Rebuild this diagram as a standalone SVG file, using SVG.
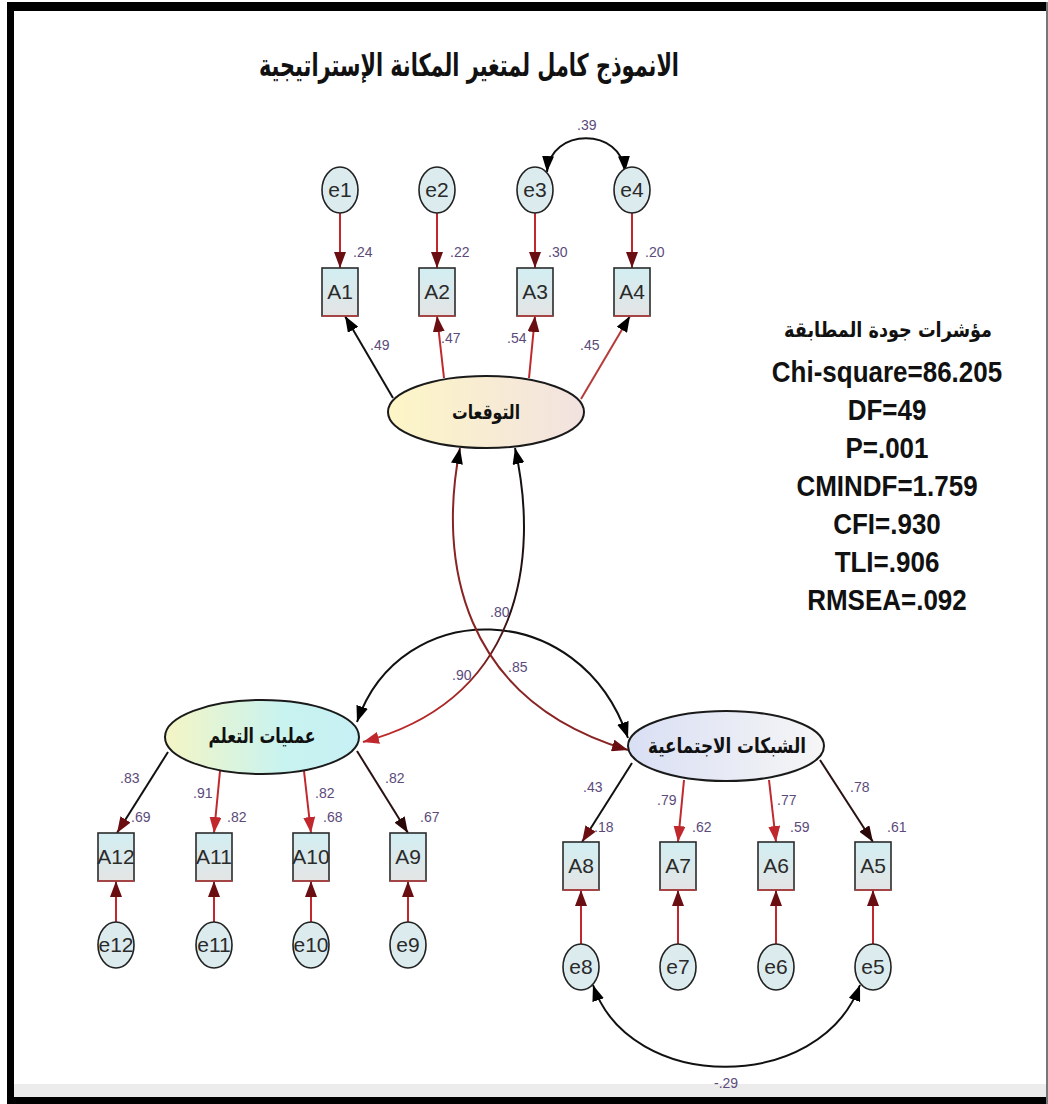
<svg xmlns="http://www.w3.org/2000/svg" width="1048" height="1104" viewBox="0 0 1048 1104">
  <defs>
    <style>
      .err { fill: #dcecee; stroke: #222; stroke-width: 1.6; }
      .box { fill: url(#boxFill); stroke: #2b2b2b; stroke-width: 1.6; }
      .edge { fill: none; stroke: #c04040; stroke-width: 1.4; stroke-dasharray: 0 84 36 48; }
      .name { font-family: "Liberation Sans", Arial, sans-serif; font-size: 21px; fill: #2a2a2a; text-anchor: middle; }
      .val { font-family: "Liberation Sans", Arial, sans-serif; font-size: 14px; fill: #5b4a7a; }
      .ar { font-family: "DejaVu Sans", "Noto Sans", sans-serif; font-weight: bold; fill: #111; text-anchor: middle; }
      .fit { font-family: "Liberation Sans", Arial, sans-serif; font-weight: bold; font-size: 26px; fill: #111; text-anchor: middle; }
      .lat { stroke: #1a1a1a; stroke-width: 2; }
      .k { fill: none; stroke: #111; stroke-width: 2; }
      .r { fill: none; stroke: #c0282d; stroke-width: 2; }
      .dk { fill: none; stroke: #2a1212; stroke-width: 2; }
    </style>
    <linearGradient id="boxFill" x1="0" y1="0" x2="0" y2="1">
      <stop offset="0" stop-color="#d2eef2"/>
      <stop offset="1" stop-color="#e4e4e4"/>
    </linearGradient>
    <linearGradient id="fillTop" x1="0" y1="0" x2="1" y2="0">
      <stop offset="0" stop-color="#fdf6c6"/>
      <stop offset="1" stop-color="#f2e2e0"/>
    </linearGradient>
    <linearGradient id="fillLeft" x1="0" y1="0" x2="1" y2="0">
      <stop offset="0" stop-color="#f4f5c4"/>
      <stop offset="0.6" stop-color="#c9f3ef"/>
      <stop offset="1" stop-color="#c6f0f4"/>
    </linearGradient>
    <linearGradient id="fillRight" x1="0" y1="0" x2="1" y2="0">
      <stop offset="0" stop-color="#d9dff4"/>
      <stop offset="1" stop-color="#f6f6f6"/>
    </linearGradient>
    <linearGradient id="curveA" gradientUnits="userSpaceOnUse" x1="0" y1="450" x2="0" y2="745">
      <stop offset="0" stop-color="#111"/>
      <stop offset="0.55" stop-color="#2a1010"/>
      <stop offset="0.8" stop-color="#9e2828"/>
      <stop offset="1" stop-color="#c62828"/>
    </linearGradient>
    <marker id="hBlack" viewBox="0 0 16 12" refX="16" refY="6" markerWidth="16" markerHeight="12" markerUnits="userSpaceOnUse" orient="auto-start-reverse">
      <path d="M0,0 L16,6 L0,12 z" fill="#000"/>
    </marker>
    <marker id="hDark" viewBox="0 0 16 12" refX="16" refY="6" markerWidth="16" markerHeight="12" markerUnits="userSpaceOnUse" orient="auto-start-reverse">
      <path d="M0,0 L16,6 L0,12 z" fill="#6a0e12"/>
    </marker>
    <marker id="hRed" viewBox="0 0 16 12" refX="16" refY="6" markerWidth="16" markerHeight="12" markerUnits="userSpaceOnUse" orient="auto-start-reverse">
      <path d="M0,0 L16,6 L0,12 z" fill="#c0282d"/>
    </marker>
    <marker id="hDeep" viewBox="0 0 16 12" refX="16" refY="6" markerWidth="16" markerHeight="12" markerUnits="userSpaceOnUse" orient="auto-start-reverse">
      <path d="M0,0 L16,6 L0,12 z" fill="#2b0808"/>
    </marker>
  </defs>

  <!-- page and frame -->
  <rect x="0" y="0" width="1048" height="1104" fill="#fff"/>
  <rect x="14" y="1084" width="1032" height="13" fill="#ececec"/>
  <rect x="7" y="2" width="1041" height="9" fill="#000"/>
  <rect x="7" y="2" width="7" height="1102" fill="#000"/>
  <rect x="7" y="1097" width="1041" height="7" fill="#000"/>
  <rect x="1046" y="2" width="2" height="1102" fill="#777"/>

  <!-- title -->
  <text class="ar" x="469" y="76" font-size="31" textLength="420" lengthAdjust="spacingAndGlyphs">الانموذج كامل لمتغير المكانة الإستراتيجية</text>

  <!-- connectors -->
  <g id="connectors">
    <!-- error terms to indicators, top -->
    <line class="r" x1="340" y1="213" x2="340" y2="268" marker-end="url(#hDark)"/>
    <line class="r" x1="437" y1="213" x2="437" y2="268" marker-end="url(#hDark)"/>
    <line class="r" x1="535" y1="213" x2="535" y2="268" marker-end="url(#hDark)"/>
    <line class="r" x1="632" y1="213" x2="632" y2="268" marker-end="url(#hDark)"/>
    <path class="k" d="M547,172 C550,127 622,127 625,172" marker-start="url(#hBlack)" marker-end="url(#hBlack)"/>

    <!-- loadings, top factor -->
    <line class="k" x1="393" y1="398" x2="345" y2="316" marker-end="url(#hBlack)"/>
    <line class="r" x1="444" y1="378" x2="437" y2="316" marker-end="url(#hDark)"/>
    <line class="r" x1="529" y1="378" x2="535" y2="316" marker-end="url(#hDark)"/>
    <line fill="none" stroke="#b53a3a" stroke-width="2" x1="581" y1="399" x2="630" y2="316" marker-end="url(#hBlack)"/>

    <!-- factor covariances -->
    <path class="k" d="M357,722 C400,596 580,596 628,738" marker-start="url(#hBlack)" marker-end="url(#hBlack)"/>
    <path fill="none" stroke="url(#curveA)" stroke-width="2" d="M515,448 C540,560 520,700 363,742" marker-start="url(#hBlack)" marker-end="url(#hRed)"/>
    <path fill="none" stroke="#8a2424" stroke-width="2" d="M460,448 C438,560 460,700 628,750" marker-start="url(#hBlack)" marker-end="url(#hDark)"/>

    <!-- loadings, left factor -->
    <line class="k" x1="168" y1="752" x2="117" y2="833" marker-end="url(#hDark)"/>
    <line class="r" x1="220" y1="771" x2="214" y2="833" marker-end="url(#hRed)"/>
    <line class="r" x1="304" y1="771" x2="311" y2="833" marker-end="url(#hRed)"/>
    <line class="dk" x1="357" y1="751" x2="408" y2="833" marker-end="url(#hDeep)"/>

    <!-- error terms to indicators, left -->
    <line class="r" x1="116" y1="922" x2="116" y2="881" marker-end="url(#hDark)"/>
    <line class="r" x1="214" y1="922" x2="214" y2="881" marker-end="url(#hDark)"/>
    <line class="r" x1="311" y1="922" x2="311" y2="881" marker-end="url(#hDark)"/>
    <line class="r" x1="408" y1="922" x2="408" y2="881" marker-end="url(#hDark)"/>

    <!-- loadings, right factor -->
    <line class="k" x1="632" y1="763" x2="582" y2="842" marker-end="url(#hDark)"/>
    <line class="r" x1="684" y1="780" x2="678" y2="842" marker-end="url(#hRed)"/>
    <line class="r" x1="769" y1="780" x2="776" y2="842" marker-end="url(#hRed)"/>
    <line class="dk" x1="820" y1="760" x2="873" y2="842" marker-end="url(#hDeep)"/>

    <!-- error terms to indicators, right -->
    <line class="r" x1="581" y1="944" x2="581" y2="890" marker-end="url(#hDark)"/>
    <line class="r" x1="678" y1="944" x2="678" y2="890" marker-end="url(#hDark)"/>
    <line class="r" x1="776" y1="944" x2="776" y2="890" marker-end="url(#hDark)"/>
    <line class="r" x1="873" y1="944" x2="873" y2="890" marker-end="url(#hDark)"/>
    <path class="k" d="M593,985 C630,1094 820,1094 860,985" marker-start="url(#hBlack)" marker-end="url(#hBlack)"/>
  </g>

  <!-- path values -->
  <g id="values">
    <text class="val" x="353" y="257">.24</text>
    <text class="val" x="450" y="257">.22</text>
    <text class="val" x="548" y="257">.30</text>
    <text class="val" x="645" y="257">.20</text>
    <text class="val" x="577" y="130">.39</text>
    <text class="val" x="370" y="350">.49</text>
    <text class="val" x="441" y="343">.47</text>
    <text class="val" x="507" y="343">.54</text>
    <text class="val" x="580" y="350">.45</text>
    <text class="val" x="490" y="617">.80</text>
    <text class="val" x="452" y="680">.90</text>
    <text class="val" x="508" y="672">.85</text>
    <text class="val" x="120" y="783">.83</text>
    <text class="val" x="131" y="822">.69</text>
    <text class="val" x="193" y="798">.91</text>
    <text class="val" x="227" y="822">.82</text>
    <text class="val" x="315" y="798">.82</text>
    <text class="val" x="323" y="822">.68</text>
    <text class="val" x="385" y="783">.82</text>
    <text class="val" x="420" y="822">.67</text>
    <text class="val" x="583" y="792">.43</text>
    <text class="val" x="594" y="832">.18</text>
    <text class="val" x="657" y="805">.79</text>
    <text class="val" x="692" y="832">.62</text>
    <text class="val" x="777" y="805">.77</text>
    <text class="val" x="790" y="832">.59</text>
    <text class="val" x="850" y="792">.78</text>
    <text class="val" x="887" y="832">.61</text>
    <text class="val" x="714" y="1088">-.29</text>
  </g>

  <!-- error terms -->
  <g id="e1"><ellipse class="err" cx="340" cy="190" rx="18" ry="23"/><text class="name" x="340" y="197">e1</text></g>
  <g id="e2"><ellipse class="err" cx="437" cy="190" rx="18" ry="23"/><text class="name" x="437" y="197">e2</text></g>
  <g id="e3"><ellipse class="err" cx="535" cy="190" rx="18" ry="23"/><text class="name" x="535" y="197">e3</text></g>
  <g id="e4"><ellipse class="err" cx="632" cy="190" rx="18" ry="23"/><text class="name" x="632" y="197">e4</text></g>
  <g id="e12"><ellipse class="err" cx="116" cy="945" rx="18" ry="23"/><text class="name" x="116" y="952">e12</text></g>
  <g id="e11"><ellipse class="err" cx="214" cy="945" rx="18" ry="23"/><text class="name" x="214" y="952">e11</text></g>
  <g id="e10"><ellipse class="err" cx="311" cy="945" rx="18" ry="23"/><text class="name" x="311" y="952">e10</text></g>
  <g id="e9"><ellipse class="err" cx="408" cy="945" rx="18" ry="23"/><text class="name" x="408" y="952">e9</text></g>
  <g id="e8"><ellipse class="err" cx="581" cy="967" rx="18" ry="23"/><text class="name" x="581" y="974">e8</text></g>
  <g id="e7"><ellipse class="err" cx="678" cy="967" rx="18" ry="23"/><text class="name" x="678" y="974">e7</text></g>
  <g id="e6"><ellipse class="err" cx="776" cy="967" rx="18" ry="23"/><text class="name" x="776" y="974">e6</text></g>
  <g id="e5"><ellipse class="err" cx="873" cy="967" rx="18" ry="23"/><text class="name" x="873" y="974">e5</text></g>

  <!-- observed indicators -->
  <g id="A1"><rect class="box" x="322" y="268" width="36" height="48"/><rect class="edge" x="322" y="268" width="36" height="48"/><text class="name" x="340" y="299">A1</text></g>
  <g id="A2"><rect class="box" x="419" y="268" width="36" height="48"/><rect class="edge" x="419" y="268" width="36" height="48"/><text class="name" x="437" y="299">A2</text></g>
  <g id="A3"><rect class="box" x="517" y="268" width="36" height="48"/><rect class="edge" x="517" y="268" width="36" height="48"/><text class="name" x="535" y="299">A3</text></g>
  <g id="A4"><rect class="box" x="614" y="268" width="36" height="48"/><rect class="edge" x="614" y="268" width="36" height="48"/><text class="name" x="632" y="299">A4</text></g>
  <g id="A12"><rect class="box" x="98" y="833" width="36" height="48"/><rect class="edge" x="98" y="833" width="36" height="48"/><text class="name" x="116" y="864">A12</text></g>
  <g id="A11"><rect class="box" x="196" y="833" width="36" height="48"/><rect class="edge" x="196" y="833" width="36" height="48"/><text class="name" x="214" y="864">A11</text></g>
  <g id="A10"><rect class="box" x="293" y="833" width="36" height="48"/><rect class="edge" x="293" y="833" width="36" height="48"/><text class="name" x="311" y="864">A10</text></g>
  <g id="A9"><rect class="box" x="390" y="833" width="36" height="48"/><rect class="edge" x="390" y="833" width="36" height="48"/><text class="name" x="408" y="864">A9</text></g>
  <g id="A8"><rect class="box" x="563" y="842" width="36" height="48"/><rect class="edge" x="563" y="842" width="36" height="48"/><text class="name" x="581" y="873">A8</text></g>
  <g id="A7"><rect class="box" x="660" y="842" width="36" height="48"/><rect class="edge" x="660" y="842" width="36" height="48"/><text class="name" x="678" y="873">A7</text></g>
  <g id="A6"><rect class="box" x="758" y="842" width="36" height="48"/><rect class="edge" x="758" y="842" width="36" height="48"/><text class="name" x="776" y="873">A6</text></g>
  <g id="A5"><rect class="box" x="855" y="842" width="36" height="48"/><rect class="edge" x="855" y="842" width="36" height="48"/><text class="name" x="873" y="873">A5</text></g>

  <!-- latent factors -->
  <g id="expectations">
    <ellipse cx="486" cy="412" rx="98" ry="36" fill="url(#fillTop)" class="lat"/>
    <text class="ar" x="486" y="419" font-size="20" textLength="68" lengthAdjust="spacingAndGlyphs">التوقعات</text>
  </g>
  <g id="learning">
    <ellipse cx="262" cy="737" rx="97" ry="37" fill="url(#fillLeft)" class="lat"/>
    <text class="ar" x="262" y="743" font-size="21" textLength="107" lengthAdjust="spacingAndGlyphs">عمليات التعلم</text>
  </g>
  <g id="networks">
    <ellipse cx="726" cy="746" rx="98" ry="35" fill="url(#fillRight)" class="lat"/>
    <text class="ar" x="727" y="753" font-size="21" textLength="158" lengthAdjust="spacingAndGlyphs">الشبكات الاجتماعية</text>
  </g>

  <!-- fit indices, drawn slightly tall -->
  <g id="fit">
    <text class="ar" x="888" y="337" font-size="21" textLength="208" lengthAdjust="spacingAndGlyphs">مؤشرات جودة المطابقة</text>
    <text class="fit" x="887" y="382" transform="matrix(1,0,0,1.15,0,-57.3)">Chi-square=86.205</text>
    <text class="fit" x="887" y="420" transform="matrix(1,0,0,1.15,0,-63)">DF=49</text>
    <text class="fit" x="887" y="458" transform="matrix(1,0,0,1.15,0,-68.7)">P=.001</text>
    <text class="fit" x="887" y="496" transform="matrix(1,0,0,1.15,0,-74.4)">CMINDF=1.759</text>
    <text class="fit" x="887" y="534" transform="matrix(1,0,0,1.15,0,-80.1)">CFI=.930</text>
    <text class="fit" x="887" y="572" transform="matrix(1,0,0,1.15,0,-85.8)">TLI=.906</text>
    <text class="fit" x="887" y="610" transform="matrix(1,0,0,1.15,0,-91.5)">RMSEA=.092</text>
  </g>
</svg>
